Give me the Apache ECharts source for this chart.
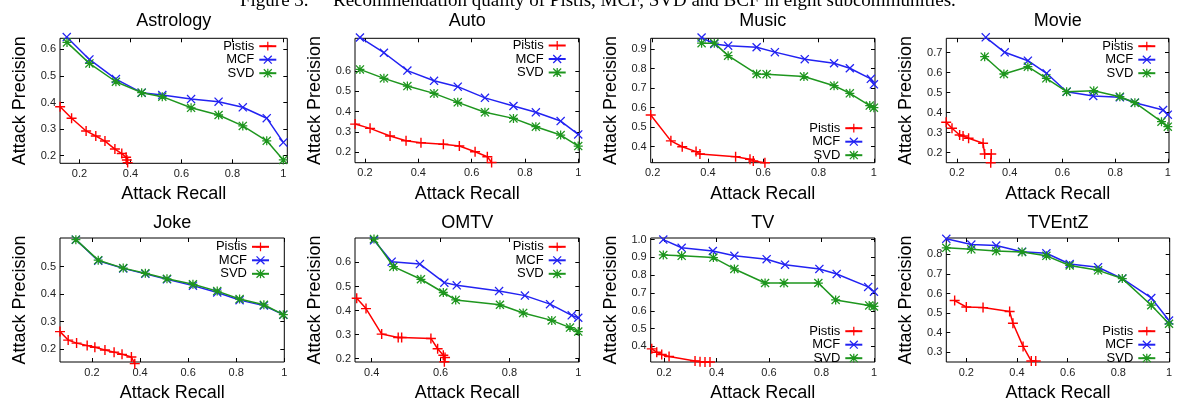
<!DOCTYPE html>
<html><head><meta charset="utf-8">
<script src="https://cdn.jsdelivr.net/npm/echarts@6/dist/echarts.min.js"></script>
<style>html,body{margin:0;padding:0;background:#fff}#c{width:1178px;height:403px}</style>
</head><body><div id="c"></div>
<script>
// ---------- data ----------
const seriesNames = ['Pistis', 'MCF', 'SVD'];
const panelTitles = ['Astrology', 'Auto', 'Music', 'Movie', 'Joke', 'OMTV', 'TV', 'TVEntZ'];
const xAxisTitle = 'Attack Recall';
const yAxisTitle = 'Attack Precision';
const captionLabel = 'Figure 3.';
const captionText = 'Recommendation quality of Pistis, MCF, SVD and BCF in eight subcommunities.';

const astrologyPistis = [[0.124,0.384],[0.169,0.341],[0.226,0.293],[0.264,0.274],[0.300,0.255],[0.339,0.225],[0.366,0.208],[0.383,0.194],[0.386,0.184],[0.389,0.174]];
const astrologyMCF = [[0.150,0.646],[0.239,0.562],[0.343,0.488],[0.444,0.437],[0.525,0.428],[0.638,0.413],[0.746,0.403],[0.841,0.382],[0.935,0.341],[1.0,0.25]];
const astrologySVD = [[0.151,0.626],[0.239,0.547],[0.343,0.478],[0.444,0.437],[0.525,0.422],[0.638,0.380],[0.746,0.353],[0.841,0.312],[0.935,0.256],[1.0,0.184]];

const autoPistis = [[0.163,0.339],[0.219,0.318],[0.294,0.280],[0.354,0.257],[0.41,0.247],[0.494,0.240],[0.554,0.231],[0.613,0.203],[0.659,0.178],[0.675,0.150]];
const autoMCF = [[0.181,0.765],[0.271,0.690],[0.359,0.602],[0.459,0.552],[0.548,0.523],[0.650,0.468],[0.757,0.428],[0.841,0.397],[0.934,0.354],[1.0,0.288]];
const autoSVD = [[0.181,0.608],[0.271,0.564],[0.359,0.526],[0.459,0.490],[0.548,0.446],[0.650,0.397],[0.757,0.367],[0.841,0.326],[0.934,0.285],[1.0,0.231]];

const musicPistis = [[0.193,0.563],[0.266,0.430],[0.307,0.400],[0.357,0.375],[0.371,0.363],[0.50,0.349],[0.552,0.336],[0.564,0.327],[0.606,0.318]];
const musicMCF = [[0.377,0.96],[0.423,0.927],[0.473,0.918],[0.576,0.910],[0.642,0.885],[0.750,0.849],[0.856,0.828],[0.913,0.8025],[0.989,0.748],[1.0,0.72]];
const musicSVD = [[0.377,0.931],[0.423,0.931],[0.473,0.867],[0.576,0.773],[0.612,0.772],[0.747,0.760],[0.856,0.713],[0.913,0.674],[0.985,0.611],[1.0,0.60]];

const moviePistis = [[0.159,0.352],[0.181,0.322],[0.210,0.2885],[0.223,0.2835],[0.244,0.272],[0.299,0.247],[0.305,0.1935],[0.330,0.1935],[0.328,0.15]];
const movieMCF = [[0.309,0.777],[0.381,0.702],[0.469,0.66],[0.540,0.597],[0.616,0.505],[0.717,0.4835],[0.818,0.477],[0.875,0.45],[0.982,0.4135],[1.0,0.39]];
const movieSVD = [[0.305,0.68],[0.378,0.5935],[0.469,0.63],[0.539,0.572],[0.616,0.505],[0.719,0.51],[0.818,0.48],[0.875,0.45],[0.976,0.355],[1.0,0.33]];

const jokePistis = [[0.067,0.263],[0.101,0.232],[0.136,0.221],[0.180,0.212],[0.212,0.206],[0.254,0.196],[0.292,0.188],[0.325,0.18],[0.364,0.170],[0.378,0.146]];
const jokeMCF = [[0.133,0.599],[0.226,0.522],[0.330,0.494],[0.422,0.474],[0.512,0.454],[0.620,0.431],[0.721,0.406],[0.814,0.378],[0.915,0.358],[0.996,0.325]];
const jokeSVD = [[0.133,0.599],[0.226,0.524],[0.330,0.495],[0.422,0.476],[0.512,0.456],[0.620,0.436],[0.721,0.411],[0.814,0.382],[0.915,0.361],[0.996,0.325]];

const omtvPistis = [[0.3565,0.451],[0.3835,0.408],[0.429,0.302],[0.477,0.288],[0.487,0.288],[0.572,0.284],[0.5915,0.241],[0.608,0.214],[0.613,0.2045],[0.611,0.187]];
const omtvMCF = [[0.4067,0.692],[0.458,0.603],[0.540,0.593],[0.611,0.516],[0.647,0.505],[0.770,0.481],[0.845,0.462],[0.918,0.4265],[0.981,0.38],[1.0,0.370]];
const omtvSVD = [[0.4067,0.697],[0.463,0.5825],[0.543,0.530],[0.608,0.475],[0.644,0.444],[0.7725,0.424],[0.840,0.39],[0.923,0.359],[0.976,0.329],[1.0,0.3126]];

const tvPistis = [[0.153,0.386],[0.172,0.367],[0.191,0.354],[0.219,0.343],[0.318,0.318],[0.337,0.314],[0.356,0.312],[0.375,0.312]];
const tvMCF = [[0.197,1.0],[0.267,0.954],[0.386,0.936],[0.468,0.909],[0.591,0.89],[0.661,0.859],[0.792,0.835],[0.858,0.807],[0.978,0.734],[1.0,0.707]];
const tvSVD = [[0.197,0.914],[0.267,0.909],[0.388,0.899],[0.468,0.835],[0.585,0.756],[0.657,0.756],[0.788,0.756],[0.854,0.661],[0.982,0.63],[1.0,0.624]];

const tventzPistis = [[0.154,0.564],[0.2,0.531],[0.266,0.528],[0.371,0.508],[0.384,0.4485],[0.424,0.33],[0.4565,0.2555],[0.474,0.2555]];
const tventzMCF = [[0.121,0.879],[0.2197,0.8495],[0.318,0.8446],[0.42,0.813],[0.516,0.805],[0.608,0.7505],[0.72,0.734],[0.8156,0.676],[0.930,0.577],[1.0,0.462]];
const tventzSVD = [[0.121,0.833],[0.2197,0.825],[0.318,0.817],[0.42,0.812],[0.516,0.792],[0.608,0.743],[0.72,0.718],[0.8156,0.676],[0.930,0.54],[1.0,0.4455]];

const panelData = [
  [astrologyPistis, astrologyMCF, astrologySVD],
  [autoPistis, autoMCF, autoSVD],
  [musicPistis, musicMCF, musicSVD],
  [moviePistis, movieMCF, movieSVD],
  [jokePistis, jokeMCF, jokeSVD],
  [omtvPistis, omtvMCF, omtvSVD],
  [tvPistis, tvMCF, tvSVD],
  [tventzPistis, tventzMCF, tventzSVD]
];

// tick labels
const xTicksStd = [0.2, 0.4, 0.6, 0.8, 1];
const xTicksOMTV = [0.4, 0.6, 0.8, 1];
const yTicksAstrology = [0.2, 0.3, 0.4, 0.5, 0.6];
const yTicksAuto = [0.2, 0.3, 0.4, 0.5, 0.6];
const yTicksMusic = [0.4, 0.5, 0.6, 0.7, 0.8, 0.9];
const yTicksMovie = [0.2, 0.3, 0.4, 0.5, 0.6, 0.7];
const yTicksJoke = [0.2, 0.3, 0.4, 0.5];
const yTicksOMTV = [0.2, 0.3, 0.4, 0.5, 0.6];
const yTicksTV = [0.4, 0.5, 0.6, 0.7, 0.8, 0.9, 1.0];
const yTicksTVEntZ = [0.3, 0.4, 0.5, 0.6, 0.7, 0.8];
const xTicks = [xTicksStd, xTicksStd, xTicksStd, xTicksStd, xTicksStd, xTicksOMTV, xTicksStd, xTicksStd];
const yTicks = [yTicksAstrology, yTicksAuto, yTicksMusic, yTicksMovie, yTicksJoke, yTicksOMTV, yTicksTV, yTicksTVEntZ];

// axis ranges
const xRanges = [[0.1235,1.0157],[0.1625,1.004],[0.193,1.004],[0.1594,1.0045],[0.067,1.0],[0.3515,1.003],[0.149,1.004],[0.121,1.0027]];
const yRanges = [[0.1714,0.6414],[0.149,0.761],[0.318,0.956],[0.15,0.772],[0.152,0.605],[0.186,0.7016],[0.312,1.009],[0.2505,0.883]];

// ---------- layout & style ----------
const W = 1178;
const gridBoxes = [
  [60, 38.3, 227.3, 125], [355, 38.3, 224.3, 124.4], [650.7, 38.3, 224.3, 124.4], [946.3, 38.3, 222.7, 124.4],
  [60, 238, 224.3, 126.7], [355, 238, 224.3, 126.7], [650.7, 238, 224.3, 126.7], [946.3, 238, 223.4, 127.7]
];
const titleTops = [12, 12, 12, 12, 214.5, 214.5, 214.5, 214.5];
const legendPos = [[277.3,45.7],[566.7,45],[863.3,127.7],[1156.3,45.7],[270,246.3],[566.7,246.3],[863.3,330.7],[1156.3,330.7]];
const colors = ['#ff0000', '#2222f2', '#1e961e'];
const symbols = [
  'path://M4.3,0H5.7V4.3H10V5.7H5.7V10H4.3V5.7H0V4.3H4.3Z',
  'path://M1,0L5,4L9,0L10,1L6,5L10,9L9,10L5,6L1,10L0,9L4,5L0,1Z',
  'path://M4.3,0H5.7V4.3H10V5.7H5.7V10H4.3V5.7H0V4.3H4.3Z M1,0L5,4L9,0L10,1L6,5L10,9L9,10L5,6L1,10L0,9L4,5L0,1Z'
];
const symbolSizes = [10, 9, 9];
const FONT = '"Liberation Sans", Arial, Helvetica, sans-serif';

const fmtX = v => Math.abs(v - 1) < 1e-9 ? '1' : v.toFixed(1);
const fmtY = v => v.toFixed(1);

const grids = [], xAxes = [], yAxes = [], series = [], titles = [], legends = [];
gridBoxes.forEach((b, i) => {
  grids.push({left: b[0], top: b[1], width: b[2], height: b[3], show: true, borderColor: '#000', borderWidth: 1, backgroundColor: 'transparent'});
  const tickStyle = {inside: true, length: 4, lineStyle: {color: '#000', width: 1}};
  xAxes.push({
    type: 'value', gridIndex: i, position: 'bottom', min: xRanges[i][0], max: xRanges[i][1],
    axisLine: {show: false}, splitLine: {show: false},
    axisTick: Object.assign({customValues: xTicks[i]}, tickStyle),
    axisLabel: {customValues: xTicks[i], formatter: fmtX, margin: 5, fontSize: 11, color: '#222', fontFamily: FONT},
    name: xAxisTitle, nameLocation: 'middle', nameGap: 22,
    nameTextStyle: {fontSize: 18, color: '#000', fontFamily: FONT}
  });
  xAxes.push({
    type: 'value', gridIndex: i, position: 'top', min: xRanges[i][0], max: xRanges[i][1],
    axisLine: {show: false}, splitLine: {show: false},
    axisTick: Object.assign({customValues: xTicks[i]}, tickStyle),
    axisLabel: {show: false}
  });
  yAxes.push({
    type: 'value', gridIndex: i, position: 'left', min: yRanges[i][0], max: yRanges[i][1],
    axisLine: {show: false}, splitLine: {show: false},
    axisTick: Object.assign({customValues: yTicks[i]}, tickStyle),
    axisLabel: {customValues: yTicks[i], formatter: fmtY, margin: 4, fontSize: 11, color: '#222', fontFamily: FONT},
    name: yAxisTitle, nameLocation: 'middle', nameGap: 31,
    nameTextStyle: {fontSize: 18, color: '#000', fontFamily: FONT}
  });
  yAxes.push({
    type: 'value', gridIndex: i, position: 'right', min: yRanges[i][0], max: yRanges[i][1],
    axisLine: {show: false}, splitLine: {show: false},
    axisTick: Object.assign({customValues: yTicks[i]}, tickStyle),
    axisLabel: {show: false}
  });
  panelData[i].forEach((d, k) => {
    series.push({
      type: 'line', name: seriesNames[k], xAxisIndex: 2 * i, yAxisIndex: 2 * i, data: d,
      symbol: symbols[k], symbolSize: symbolSizes[k], showSymbol: true, clip: false,
      lineStyle: {color: colors[k], width: 1.5},
      itemStyle: {color: colors[k], borderWidth: 0},
      emphasis: {disabled: true}, animation: false, z: 2 + k
    });
  });
  titles.push({
    text: panelTitles[i], left: b[0] + b[2] / 2, top: titleTops[i], textAlign: 'center', padding: 0,
    textStyle: {fontSize: 18, fontWeight: 'normal', color: '#000', fontFamily: FONT}
  });
  legends.push({
    data: seriesNames, orient: 'vertical', align: 'right', padding: 0,
    right: W - legendPos[i][0], top: legendPos[i][1] - 6,
    itemWidth: 17, itemHeight: 11, itemGap: 0.5, selectedMode: false,
    textStyle: {fontSize: 13, lineHeight: 12, color: '#000', fontFamily: FONT}
  });
});

const chart = echarts.init(document.getElementById('c'), null, {renderer: 'canvas'});
chart.setOption({
  animation: false,
  backgroundColor: '#fff',
  title: titles,
  legend: legends,
  grid: grids,
  xAxis: xAxes,
  yAxis: yAxes,
  series: series,
  graphic: [
    {type: 'text', x: 240, y: -8.5, silent: true, style: {text: captionLabel, fontSize: 19, fontFamily: '"Liberation Serif", "Times New Roman", serif', fill: '#000', verticalAlign: 'top'}},
    {type: 'text', x: 333, y: -8.5, silent: true, style: {text: captionText, fontSize: 19, fontFamily: '"Liberation Serif", "Times New Roman", serif', fill: '#000', verticalAlign: 'top'}}
  ]
});
</script></body></html>
